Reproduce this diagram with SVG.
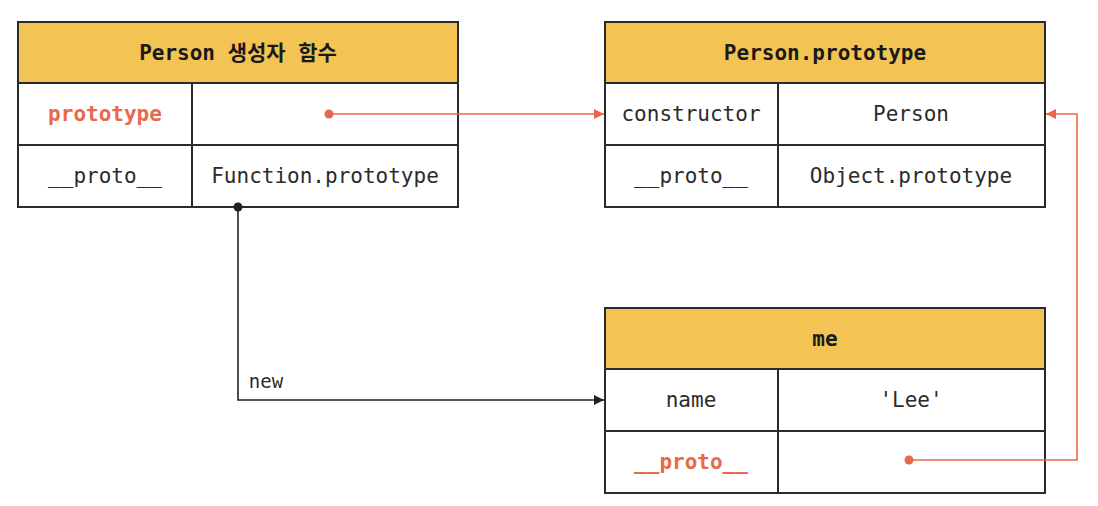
<svg xmlns="http://www.w3.org/2000/svg" width="1098" height="506" viewBox="0 0 1098 506">
<defs>
<style>
.hdr{fill:#F3C354;stroke:#2b2b2b;stroke-width:2}
.cell{fill:#fff;stroke:#2b2b2b;stroke-width:2}
.t{font-family:"DejaVu Sans Mono","Liberation Mono","Noto Sans CJK KR",monospace;font-size:21px;fill:#2b2b2b;text-anchor:middle;dominant-baseline:central}
.b{font-weight:bold;fill:#1a1a1a}
.o{fill:#E8694A;font-weight:bold}
.lo{fill:none;stroke:#E8694A;stroke-width:1.6}
.lk{fill:none;stroke:#222;stroke-width:1.6}
</style>
<marker id="ao" viewBox="0 0 10 10" refX="10" refY="5" markerWidth="10" markerHeight="10" markerUnits="userSpaceOnUse" orient="auto"><path d="M0,0 L10,5 L0,10 z" fill="#E8694A"/></marker>
<marker id="ak" viewBox="0 0 10 10" refX="10" refY="5" markerWidth="10" markerHeight="10" markerUnits="userSpaceOnUse" orient="auto"><path d="M0,0 L10,5 L0,10 z" fill="#222"/></marker>
</defs>
<rect width="1098" height="506" fill="#fff"/>
<g id="person-constructor">
<rect class="hdr" x="18" y="22" width="440" height="61"/>
<rect class="cell" x="18" y="83" width="174" height="62"/>
<rect class="cell" x="192" y="83" width="266" height="62"/>
<rect class="cell" x="18" y="145" width="174" height="62"/>
<rect class="cell" x="192" y="145" width="266" height="62"/>
<text class="t b" x="238" y="53">Person 생성자 함수</text>
<text class="t o" x="105" y="114">prototype</text>
<text class="t" x="105" y="176">__proto__</text>
<text class="t" x="325" y="176">Function.prototype</text>
</g>
<g id="person-prototype">
<rect class="hdr" x="605" y="22" width="440" height="61"/>
<rect class="cell" x="605" y="83" width="173" height="62"/>
<rect class="cell" x="778" y="83" width="267" height="62"/>
<rect class="cell" x="605" y="145" width="173" height="62"/>
<rect class="cell" x="778" y="145" width="267" height="62"/>
<text class="t b" x="825" y="53">Person.prototype</text>
<text class="t" x="691" y="114">constructor</text>
<text class="t" x="911" y="114">Person</text>
<text class="t" x="691" y="176">__proto__</text>
<text class="t" x="911" y="176">Object.prototype</text>
</g>
<g id="me">
<rect class="hdr" x="605" y="308" width="440" height="61"/>
<rect class="cell" x="605" y="369" width="173" height="62"/>
<rect class="cell" x="778" y="369" width="267" height="62"/>
<rect class="cell" x="605" y="431" width="173" height="62"/>
<rect class="cell" x="778" y="431" width="267" height="62"/>
<text class="t b" x="825" y="339">me</text>
<text class="t" x="691" y="400">name</text>
<text class="t" x="911" y="400">'Lee'</text>
<text class="t o" x="691" y="462">__proto__</text>
</g>
<g id="connectors">
<circle cx="329" cy="114" r="4.5" fill="#E8694A"/>
<path class="lo" d="M329,114 H604" marker-end="url(#ao)"/>
<circle cx="238" cy="207" r="4.5" fill="#222"/>
<path class="lk" d="M238,207 V400 H604" marker-end="url(#ak)"/>
<text class="t" x="266" y="381" style="font-size:19px">new</text>
<circle cx="909" cy="460" r="4.5" fill="#E8694A"/>
<path class="lo" d="M909,460 H1077 V114 H1046" marker-end="url(#ao)"/>
</g>
</svg>
